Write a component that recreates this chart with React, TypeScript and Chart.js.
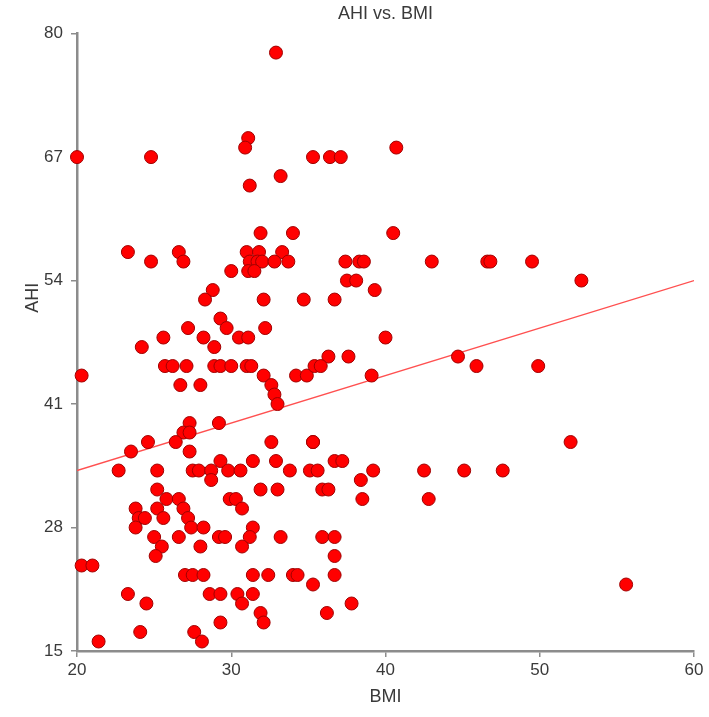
import React, { useEffect, useRef } from 'react';
import { Chart, registerables } from 'chart.js';

Chart.register(...registerables);

const bmi = [
  32.9, 31.1, 30.9, 20.0, 24.8, 33.2, 31.2, 31.9, 34.0, 35.3, 36.4, 37.1, 40.7, 40.5,
  23.3, 24.8, 26.6, 26.9, 31.0, 31.8, 31.2, 31.7, 32.0, 33.3, 32.8, 33.7, 30.0, 31.1, 31.5,
  28.8, 28.3, 32.1, 34.7, 29.3, 29.7, 27.2, 32.2, 25.6, 28.2, 30.5, 31.1, 24.2, 28.9,
  25.7, 26.2, 27.1, 28.9, 29.3, 30.0, 31.0, 31.3, 20.3, 32.1, 34.2, 26.7, 28.0, 32.6,
  32.8, 33.0, 27.3, 29.2, 26.9, 27.3, 24.6, 26.4, 32.6,
  37.4, 38.3, 38.6, 43.0, 46.6, 46.8, 37.5, 38.1, 39.3, 36.7, 40.0, 36.3, 37.6, 44.7,
  45.9, 34.9, 35.4, 35.8, 39.1, 35.3,
  49.5, 52.7, 49.9, 52.0,
  23.5, 27.3, 22.7, 25.2, 27.5, 27.9, 28.7, 28.7, 29.3, 29.8, 30.6, 31.4, 32.9, 33.8,
  25.2, 31.9, 33.0, 25.8, 26.6, 29.9, 30.3, 23.8, 25.2, 26.9, 30.7, 24.0, 24.4, 25.6,
  27.2, 23.8, 27.4, 28.2, 31.4, 25.0, 26.6, 29.2, 29.6, 31.2, 33.2, 25.5, 28.0, 30.7,
  25.1, 20.3, 21.0, 27.0, 27.5, 28.2, 31.4, 32.4, 34.0, 34.3, 23.3, 28.6, 29.3, 30.4,
  31.4, 24.5, 30.7, 31.9, 32.1, 29.3, 24.1, 27.6, 28.1, 21.4,
  35.3, 36.7, 37.2, 35.1, 35.6, 39.2, 42.5, 45.1, 47.6, 38.4, 35.9, 36.3, 38.5, 42.8,
  35.9, 36.7, 36.7, 36.7, 35.3, 37.8, 36.2, 55.6,
];

const ahi = [
  78, 69, 68, 67, 67, 65, 64, 59, 59, 67, 67, 67, 68, 59,
  57, 56, 57, 56, 57, 57, 56, 56, 56, 57, 56, 56, 55, 55, 55,
  53, 52, 52, 52, 50, 49, 49, 49, 48, 48, 48, 48, 47, 47,
  45, 45, 45, 45, 45, 45, 45, 45, 44, 44, 44, 43, 43, 43,
  42, 41, 39, 39, 38, 38, 37, 37, 37,
  56, 56, 56, 56, 56, 56, 54, 54, 53, 52, 48, 46, 46, 46,
  45, 44, 45, 45, 44, 37,
  56, 54, 45, 37,
  36, 36, 34, 34, 34, 34, 34, 33, 35, 34, 34, 35, 35, 34,
  32, 32, 32, 31, 31, 31, 31, 30, 30, 30, 30, 29, 29, 29,
  29, 28, 28, 28, 28, 27, 27, 27, 27, 27, 27, 26, 26, 26,
  25, 24, 24, 23, 23, 23, 23, 23, 23, 23, 21, 21, 21, 21,
  21, 20, 20, 19, 18, 18, 17, 17, 16, 16,
  37, 35, 35, 34, 34, 34, 34, 34, 34, 33, 32, 32, 31, 31,
  27, 27, 25, 23, 22, 20, 19, 22,
];

const fitBmi = [20, 60];
const fitAhi = [34, 54];

const xTicks = [20, 30, 40, 50, 60];
const yTicks = [15, 28, 41, 54, 67, 80];

const FONT = 'Liberation Sans, Arial, sans-serif';
const TEXT = '#3a3a3a';
const AXIS = '#8c8c8c';

const yTitlePlugin = {
  id: 'yTitle',
  afterDraw(chart: any) {
    const { ctx, chartArea } = chart;
    ctx.save();
    ctx.fillStyle = TEXT;
    ctx.font = `18px ${FONT}`;
    ctx.textAlign = 'center';
    ctx.textBaseline = 'middle';
    const yScale = chart.scales.y;
    const cy = yScale.getPixelForValue(52.2);
    ctx.translate(chartArea.left - 44, cy);
    ctx.rotate(-Math.PI / 2);
    ctx.fillText('AHI', 0, 0);
    ctx.restore();
  },
};

export default function App() {
  const ref = useRef<HTMLCanvasElement>(null);

  useEffect(() => {
    const canvas = ref.current;
    if (!canvas) return;
    const chart = new Chart(canvas, {
      type: 'scatter',
      data: {
        datasets: [
          {
            type: 'scatter',
            data: bmi.map((x, i) => ({ x, y: ahi[i] })),
            backgroundColor: '#ff0000',
            borderColor: '#a00000',
            borderWidth: 1,
            pointRadius: 6.5,
            clip: false,
            order: 0,
          } as any,
          {
            type: 'line',
            data: fitBmi.map((x, i) => ({ x, y: fitAhi[i] })),
            borderColor: '#ff5050',
            borderWidth: 1.3,
            pointRadius: 0,
            fill: false,
            order: 1,
          } as any,
        ],
      },
      options: {
        animation: false,
        responsive: false,
        maintainAspectRatio: false,
        layout: { padding: { left: 0, right: 15, top: 0, bottom: 0 } },
        plugins: {
          legend: { display: false },
          tooltip: { enabled: false },
          title: {
            display: true,
            fullSize: false,
            text: 'AHI vs. BMI',
            color: TEXT,
            font: { family: FONT, size: 18, weight: 'normal' },
            padding: { top: 3, bottom: 9 },
          },
        },
        scales: {
          x: {
            type: 'linear',
            min: 20,
            max: 60,
            afterBuildTicks: (s: any) => {
              s.ticks = xTicks.map((v) => ({ value: v }));
            },
            afterFit: (s: any) => {
              s.height = 66;
            },
            grid: { drawOnChartArea: false, drawTicks: true, tickLength: 6, color: AXIS, lineWidth: 1.5 },
            border: { display: true, color: AXIS, width: 2.5 },
            ticks: { color: TEXT, font: { family: FONT, size: 17 }, padding: 3, maxRotation: 0 },
            title: {
              display: true,
              text: 'BMI',
              color: TEXT,
              font: { family: FONT, size: 18 },
              padding: { top: 0, bottom: 9 },
            },
          },
          y: {
            type: 'linear',
            min: 15,
            max: 80,
            afterBuildTicks: (s: any) => {
              s.ticks = yTicks.map((v) => ({ value: v }));
            },
            afterFit: (s: any) => {
              s.width = 77;
            },
            grid: { drawOnChartArea: false, drawTicks: true, tickLength: 6, color: AXIS, lineWidth: 1.5 },
            border: { display: true, color: AXIS, width: 2.5 },
            ticks: { color: TEXT, font: { family: FONT, size: 17 }, padding: 8 },
            title: { display: false },
          },
        },
      },
      plugins: [yTitlePlugin],
    });
    return () => chart.destroy();
  }, []);

  return (
    <div style={{ position: 'fixed', left: 0, top: 0, width: 709, height: 717, background: '#fff' }}>
      <canvas ref={ref} width={709} height={717} style={{ width: 709, height: 717, display: 'block' }} />
    </div>
  );
}
